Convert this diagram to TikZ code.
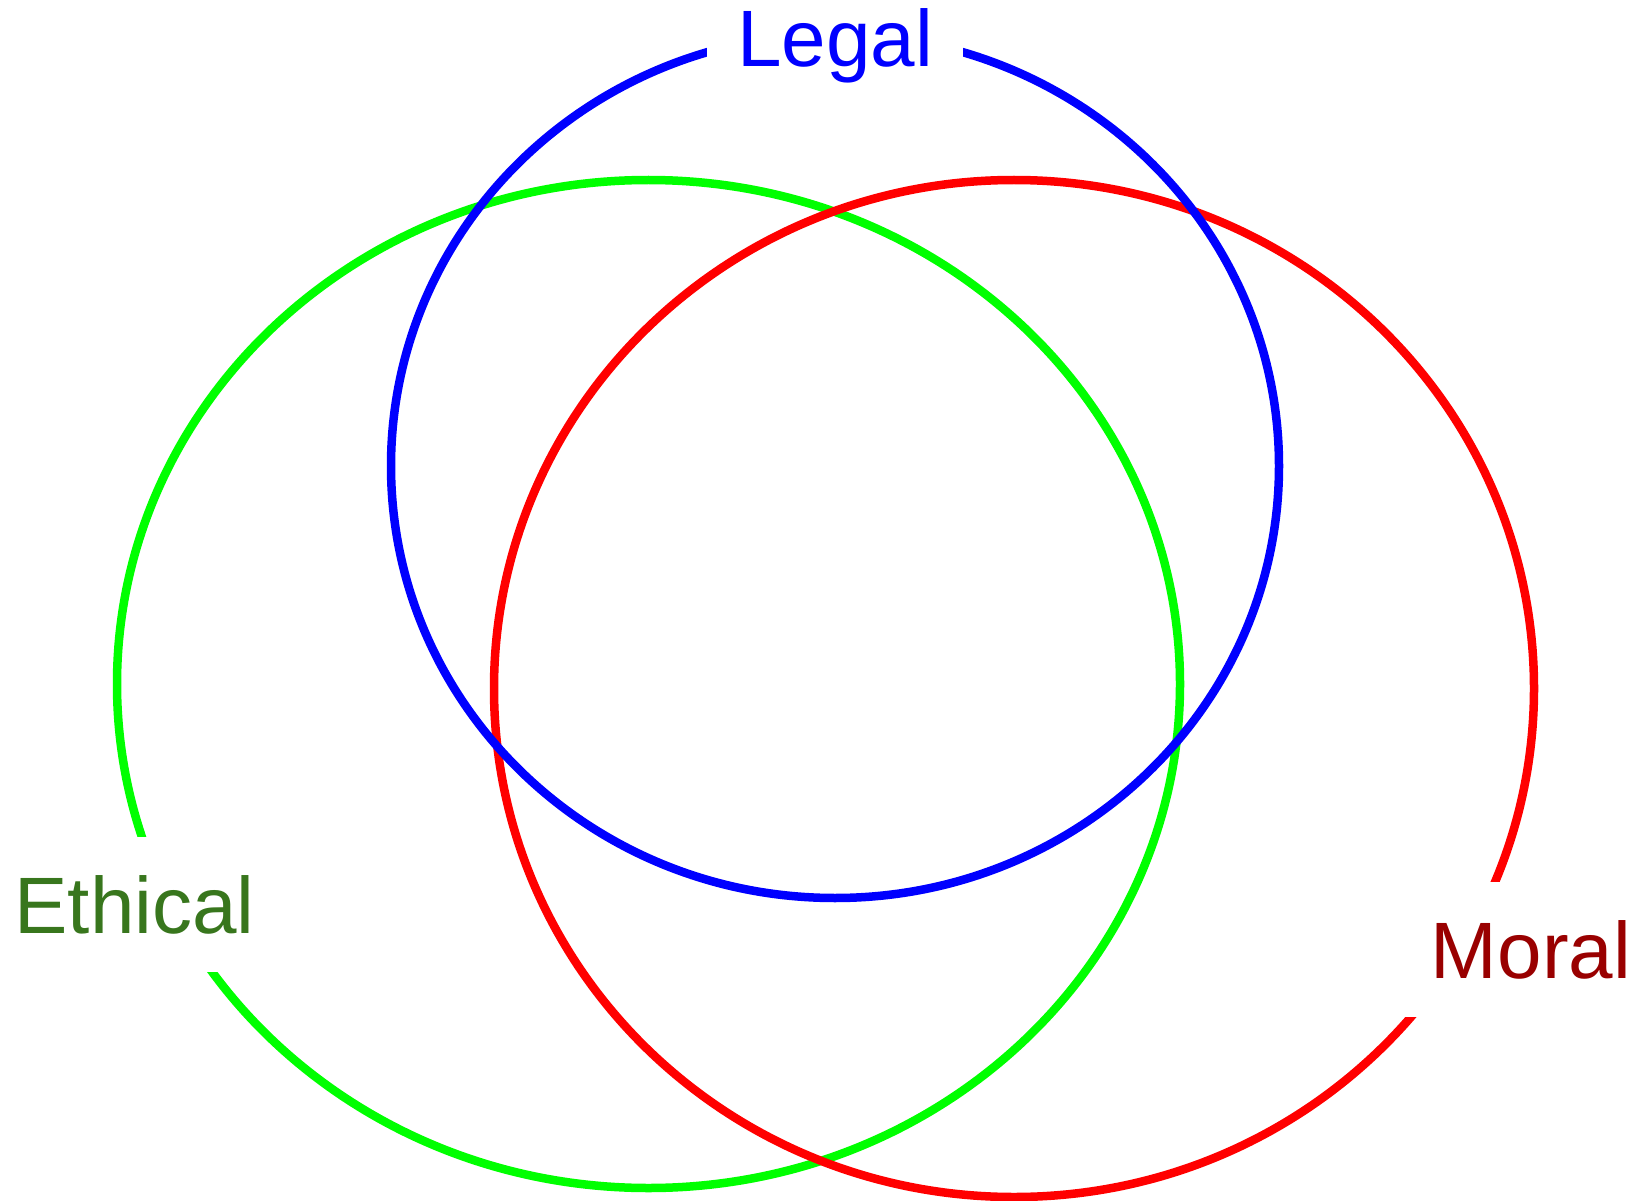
\documentclass[tikz,border=0pt]{standalone}
\usepackage{fontspec}
\setmainfont{Liberation Sans}
\usetikzlibrary{positioning}
\definecolor{legalblue}{RGB}{0,0,255}
\definecolor{ethicgreen}{RGB}{0,255,0}
\definecolor{ethictext}{RGB}{56,118,29}
\definecolor{moralred}{RGB}{255,0,0}
\definecolor{moraltext}{RGB}{153,0,0}
\begin{document}
\begin{tikzpicture}[
  x=1pt, y=-1pt,
  ring/.style={line width=8.5pt},
  lbl/.style={fill=white, anchor=base, inner xsep=30pt, inner ysep=38pt,
    font=\fontsize{80}{96}\selectfont},
]
\useasboundingbox (0,0) rectangle (1642,1201);
% the three sets
\draw[ring, ethicgreen] (648.5,684) ellipse [x radius=531.5pt, y radius=504pt];
\draw[ring, moralred] (1014,688.5) ellipse [x radius=520pt, y radius=508.5pt];
\draw[ring, legalblue] (835,466) ellipse [x radius=444pt, y radius=432pt];
% labels cut the rings
\node[lbl, text=legalblue] (legal) at (835,67) {Legal};
\node[lbl, text=ethictext] (ethical) at (134.5,933) {Ethical};
\node[lbl, text=moraltext] (moral) at (1531,978) {Moral};
\end{tikzpicture}
\end{document}
